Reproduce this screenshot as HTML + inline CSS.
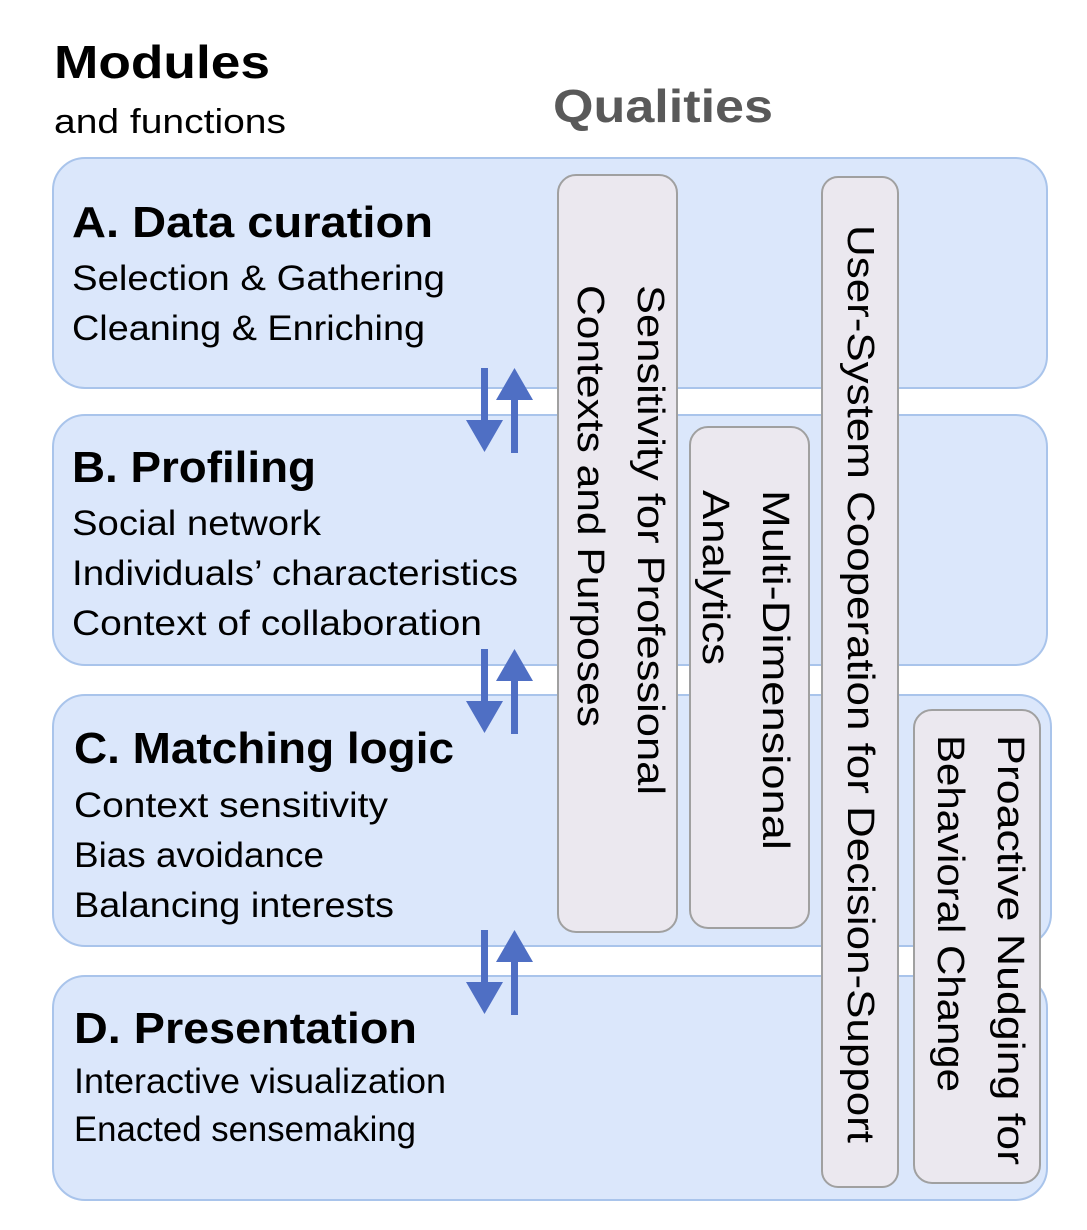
<!DOCTYPE html>
<html><head><meta charset="utf-8"><style>html,body{margin:0;padding:0;background:#fff}svg{display:block}</style></head>
<body>
<svg width="1087" height="1230" viewBox="0 0 1087 1230" xmlns="http://www.w3.org/2000/svg" font-family="'Liberation Sans', sans-serif">
<text x="54" y="78" font-size="46" font-weight="bold" textLength="216" lengthAdjust="spacingAndGlyphs">Modules</text>
<text x="54" y="133" font-size="34" textLength="232" lengthAdjust="spacingAndGlyphs">and functions</text>
<text x="553" y="122" font-size="46" font-weight="bold" fill="#595959" textLength="220" lengthAdjust="spacingAndGlyphs">Qualities</text>

<g fill="#dbe7fb" stroke="#a9c4eb" stroke-width="2">
<rect x="53" y="158" width="994" height="230" rx="32"/>
<rect x="53" y="415" width="994" height="250" rx="32"/>
<rect x="53" y="695" width="998" height="251" rx="32"/>
<rect x="53" y="976" width="994" height="224" rx="32"/>
</g>

<g font-size="35">
<text x="72" y="237" font-size="44" font-weight="bold" textLength="361" lengthAdjust="spacingAndGlyphs">A. Data curation</text>
<text x="72" y="290" textLength="373" lengthAdjust="spacingAndGlyphs">Selection &amp; Gathering</text>
<text x="72" y="340" textLength="353" lengthAdjust="spacingAndGlyphs">Cleaning &amp; Enriching</text>
<text x="72" y="482" font-size="44" font-weight="bold" textLength="244" lengthAdjust="spacingAndGlyphs">B. Profiling</text>
<text x="72" y="535" textLength="249" lengthAdjust="spacingAndGlyphs">Social network</text>
<text x="72" y="585" textLength="446" lengthAdjust="spacingAndGlyphs">Individuals’ characteristics</text>
<text x="72" y="635" textLength="410" lengthAdjust="spacingAndGlyphs">Context of collaboration</text>
<text x="74" y="763" font-size="44" font-weight="bold" textLength="380" lengthAdjust="spacingAndGlyphs">C. Matching logic</text>
<text x="74" y="817" textLength="314" lengthAdjust="spacingAndGlyphs">Context sensitivity</text>
<text x="74" y="867" textLength="250" lengthAdjust="spacingAndGlyphs">Bias avoidance</text>
<text x="74" y="917" textLength="320" lengthAdjust="spacingAndGlyphs">Balancing interests</text>
<text x="74" y="1043" font-size="44" font-weight="bold" textLength="343" lengthAdjust="spacingAndGlyphs">D. Presentation</text>
<text x="74" y="1093" textLength="372" lengthAdjust="spacingAndGlyphs">Interactive visualization</text>
<text x="74" y="1141" textLength="342" lengthAdjust="spacingAndGlyphs">Enacted sensemaking</text>
</g>

<g fill="#4f6fc4">
<g id="arr">
<rect x="481" y="368" width="7" height="54"/>
<polygon points="466,420 503,420 484.5,452"/>
<rect x="511" y="398" width="7" height="55"/>
<polygon points="496,400 533,400 514.5,368"/>
</g>
<use href="#arr" y="281"/>
<use href="#arr" y="562"/>
</g>

<g fill="#ebe8ef" stroke="#a0a0a0" stroke-width="2">
<rect x="558" y="175" width="119" height="757" rx="18"/>
<rect x="690" y="427" width="119" height="501" rx="18"/>
<rect x="822" y="177" width="76" height="1010" rx="16"/>
<rect x="914" y="710" width="126" height="473" rx="18"/>
</g>

<g font-size="38">
<text transform="translate(638,285) rotate(90)" textLength="510" lengthAdjust="spacingAndGlyphs">Sensitivity for Professional</text>
<text transform="translate(578,285) rotate(90)" textLength="442" lengthAdjust="spacingAndGlyphs">Contexts and Purposes</text>
<text transform="translate(763,490) rotate(90)" textLength="360" lengthAdjust="spacingAndGlyphs">Multi-Dimensional</text>
<text transform="translate(703,490) rotate(90)" textLength="175" lengthAdjust="spacingAndGlyphs">Analytics</text>
<text transform="translate(848,225) rotate(90)" textLength="918" lengthAdjust="spacingAndGlyphs">User-System Cooperation  for Decision-Support</text>
<text transform="translate(998,735) rotate(90)" textLength="430" lengthAdjust="spacingAndGlyphs">Proactive  Nudging for</text>
<text transform="translate(938,735) rotate(90)" textLength="357" lengthAdjust="spacingAndGlyphs">Behavioral Change</text>
</g>
</svg>
</body></html>
